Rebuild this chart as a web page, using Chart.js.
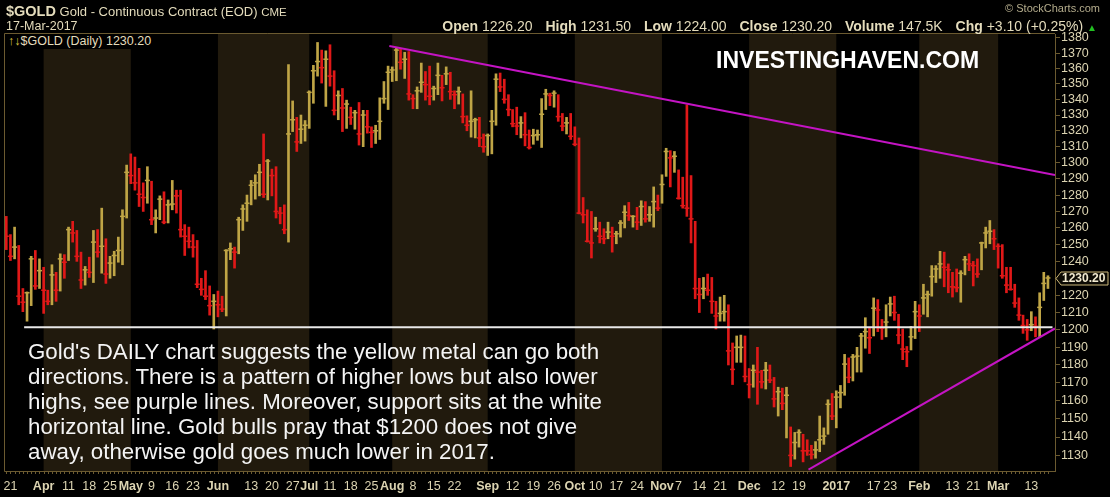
<!DOCTYPE html>
<html>
<head>
<meta charset="utf-8">
<title>$GOLD Daily</title>
<script src="https://cdn.jsdelivr.net/npm/chart.js@4.4.1/dist/chart.umd.min.js"></script>
<style>
  body { margin: 0; background: #000; }
  #wrap { position: relative; width: 1110px; height: 497px; overflow: hidden; font-family: 'Liberation Sans', Arial, sans-serif; }
  #goldChart { position: absolute; left: 0; top: 0; }
  .t { position: absolute; white-space: nowrap; color: #e4dcbc; line-height: 1; }
  #quote b { margin-left: 9px; }
  #quote b:first-child { margin-left: 0; }
  #legendBox { left: 6px; top: 34px; height: 15px; padding: 1px 6px 0 2px; background: #000; font-size: 12.5px; box-sizing: border-box; }
  #watermark { left: 716px; top: 48px; font-size: 24.5px; font-weight: bold; color: #fff; transform: scaleX(0.94); transform-origin: left top; }
  #note { left: 28px; top: 339px; font-size: 22.3px; line-height: 25px; color: #f4f4f4; }
</style>
</head>
<body>
<div id="wrap">
  <canvas id="goldChart" width="1110" height="497"></canvas>
  <div class="t" style="left:6px;top:4px;font-size:13px;"><b style="font-size:14.5px">$GOLD</b> Gold - Continuous Contract (EOD) <span style="font-size:11.5px">CME</span></div>
  <div class="t" style="left:6px;top:20px;font-size:12.5px;">17-Mar-2017</div>
  <div class="t" style="right:10px;top:3px;font-size:11px;color:#b4ac8c;">© StockCharts.com</div>
  <div class="t" id="quote" style="right:13px;top:19px;font-size:14px;"><b>Open</b> 1226.20 <b>High</b> 1231.50 <b>Low</b> 1224.00 <b>Close</b> 1230.20 <b>Volume</b> 147.5K <b>Chg</b> +3.10 (+0.25%) <span style="color:#22c022;font-size:10px">▲</span></div>
  <div class="t" id="legendBox"><span style="color:#d8c040">↑↓</span>$GOLD (Daily) 1230.20</div>
  <div class="t" id="watermark">INVESTINGHAVEN.COM</div>
  <div class="t" id="note">Gold's DAILY chart suggests the yellow metal can go both<br>directions. There is a pattern of higher lows but also lower<br>highs, see purple lines. Moreover, support sits at the white<br>horizontal line. Gold bulls pray that $1200 does not give<br>away, otherwise gold goes much lower in 2017.</div>
</div>
<script>
// daily bars, 18-Mar-2016 .. 17-Mar-2017 (252 sessions)
const highs = [
  1267, 1256, 1260.5, 1249.5, 1224, 1222, 1243, 1246.5, 1241.5, 1236.5,
  1223, 1238, 1233.5, 1244.5, 1244, 1260.5, 1264, 1258.5, 1245.5, 1237,
  1242.5, 1258.5, 1259, 1272, 1253.5, 1243, 1246, 1254.5, 1271, 1298.5,
  1305.5, 1303.5, 1296.5, 1287.5, 1297.5, 1288.5, 1271, 1279.5, 1282, 1277,
  1289, 1283, 1283, 1262, 1260.5, 1256, 1252.5, 1230, 1234.5, 1225.5,
  1220.5, 1222.5, 1219.5, 1247, 1251, 1248.5, 1266.5, 1274, 1280, 1289,
  1292.5, 1299, 1318, 1302, 1296, 1297.5, 1272.5, 1274, 1362.5, 1339,
  1328.5, 1330, 1326.5, 1345.5, 1362, 1377, 1372, 1371.5, 1375.5, 1358.5,
  1345.5, 1347, 1339.5, 1335, 1333, 1338, 1333, 1333, 1322.5, 1323.5,
  1341, 1351.5, 1361.5, 1361, 1373.5, 1372.5, 1370.5, 1371, 1343, 1348,
  1363.5, 1358, 1361.5, 1348.5, 1363.5, 1355.5, 1361, 1357.5, 1345.5, 1348,
  1343.5, 1329.5, 1345.5, 1328, 1328.5, 1318, 1318, 1333, 1356.5, 1357,
  1353, 1343, 1333.5, 1335, 1329, 1331.5, 1320.5, 1321, 1320.5, 1340.5,
  1346.5, 1344, 1345.5, 1343, 1331, 1328.5, 1331, 1322.5, 1315.5, 1278.5,
  1271, 1270, 1266.5, 1263.5, 1259.5, 1263.5, 1260.5, 1258, 1264.5, 1273.5,
  1275.5, 1267.5, 1272.5, 1276.5, 1276, 1273, 1285, 1280, 1292.5, 1309,
  1307.5, 1307, 1295.5, 1291, 1336.5, 1292, 1264, 1230, 1230.5, 1232.5,
  1230.5, 1216.5, 1219, 1220, 1214.5, 1192.5, 1196.5, 1197, 1196.5, 1178,
  1180, 1190, 1177, 1181.5, 1180, 1173, 1167.5, 1167, 1167.5, 1145.5,
  1142.5, 1144, 1141.5, 1138.5, 1135.5, 1137.5, 1151.5, 1145, 1160.5, 1164,
  1165.5, 1168.5, 1186, 1184, 1186, 1190, 1198, 1207, 1201, 1218.5,
  1217.5, 1206, 1214.5, 1219, 1219.5, 1209, 1200.5, 1190.5, 1202, 1216.5,
  1214.5, 1226.5, 1222.5, 1237.5, 1237.5, 1246, 1245.5, 1238.5, 1233.5, 1235.5,
  1234.5, 1243, 1244.5, 1240, 1241.5, 1251.5, 1260.5, 1264.5, 1259, 1250.5,
  1250, 1236.5, 1236.5, 1226.5, 1218.5, 1208.5, 1206, 1210.5, 1207.5, 1221.5,
  1233.5, 1231.5
];
const lows = [
  1247, 1240.5, 1241.5, 1214.5, 1210.5, 1205, 1214, 1223.5, 1224, 1209.5,
  1214.5, 1214.5, 1216.5, 1222.5, 1230, 1240.5, 1251.5, 1240, 1224, 1226,
  1230.5, 1227.5, 1242.5, 1233, 1227, 1230, 1231.5, 1239.5, 1238, 1266,
  1287, 1283, 1273, 1270, 1275, 1262, 1257, 1265, 1262.5, 1263,
  1271, 1269, 1254.5, 1243.5, 1248, 1242.5, 1224.5, 1220, 1217.5, 1208.5,
  1200.5, 1207.5, 1210.5, 1208, 1241, 1236, 1244.5, 1258.5, 1264, 1274,
  1277.5, 1279.5, 1278.5, 1277, 1279.5, 1266, 1262.5, 1256.5, 1251.5, 1319.5,
  1307, 1312, 1313.5, 1321.5, 1337.5, 1355, 1350.5, 1335.5, 1348.5, 1330,
  1327, 1319.5, 1321.5, 1324, 1321, 1311, 1310, 1318.5, 1309.5, 1312,
  1314.5, 1337.5, 1333.5, 1351.5, 1352, 1359.5, 1353.5, 1339.5, 1334, 1334,
  1344.5, 1339.5, 1336.5, 1339.5, 1343, 1339, 1349.5, 1340, 1334, 1337,
  1325, 1320, 1316, 1315.5, 1310, 1306.5, 1304.5, 1305.5, 1323.5, 1345,
  1337.5, 1329.5, 1322.5, 1317.5, 1315.5, 1310.5, 1308.5, 1311.5, 1314, 1309.5,
  1333.5, 1336, 1335, 1326, 1320, 1318, 1314.5, 1310.5, 1268.5, 1263,
  1251.5, 1242, 1258, 1251, 1250.5, 1253.5, 1245.5, 1250.5, 1254.5, 1260,
  1264.5, 1260.5, 1259, 1261.5, 1263.5, 1264, 1260.5, 1270.5, 1275, 1291.5,
  1285, 1294, 1277.5, 1272, 1267, 1251, 1218, 1210, 1218, 1220,
  1209.5, 1200.5, 1205, 1205, 1180, 1169, 1181.5, 1181.5, 1170.5, 1161.5,
  1167.5, 1158, 1167, 1166.5, 1170, 1156.5, 1151.5, 1155, 1139.5, 1124,
  1128, 1134.5, 1126.5, 1130, 1128, 1128.5, 1132, 1136, 1141.5, 1149.5,
  1145, 1156, 1163, 1170, 1171, 1176, 1176, 1189.5, 1186.5, 1196.5,
  1199, 1194.5, 1196, 1208, 1205.5, 1192, 1183, 1179, 1188.5, 1195,
  1199, 1209, 1207.5, 1219.5, 1227.5, 1230, 1225, 1221.5, 1219, 1222,
  1216, 1232, 1234.5, 1225.5, 1230.5, 1235, 1248, 1250.5, 1247, 1236,
  1230, 1221.5, 1223, 1213, 1205.5, 1198, 1194, 1199.5, 1196, 1196,
  1217, 1224
];
const closes = [
  1255, 1243, 1248.5, 1219.5, 1216, 1221.5, 1241.5, 1225.5, 1234.5, 1223,
  1216.5, 1232, 1223, 1241.5, 1239.5, 1259, 1257, 1243, 1229, 1235,
  1233.5, 1251.5, 1245.5, 1249, 1232.5, 1239, 1243.5, 1246.5, 1267, 1294,
  1292, 1287.5, 1280.5, 1278.5, 1289, 1265, 1266, 1277.5, 1263.5, 1274,
  1274.5, 1279.5, 1259, 1255, 1252, 1248.5, 1226.5, 1223.5, 1219.5, 1214,
  1216.5, 1214.5, 1212, 1246.5, 1247.5, 1245.5, 1265, 1271.5, 1275, 1286,
  1287.5, 1294, 1280.5, 1301, 1292, 1270, 1269, 1259, 1318, 1327,
  1313, 1321, 1323.5, 1344.5, 1358.5, 1364.5, 1360.5, 1366, 1355, 1333,
  1342.5, 1334.5, 1337, 1328.5, 1331.5, 1318, 1330, 1322.5, 1319, 1320,
  1326, 1340.5, 1357.5, 1359, 1372, 1364, 1366, 1343.5, 1340.5, 1345.5,
  1351, 1349.5, 1342, 1347, 1355.5, 1347.5, 1356.5, 1345, 1343, 1345,
  1329, 1323.5, 1326, 1327, 1315.5, 1310, 1317, 1326, 1353, 1348,
  1340, 1333.5, 1324.5, 1323, 1325, 1317.5, 1309.5, 1317, 1317.5, 1330.5,
  1343.5, 1342.5, 1344, 1329, 1323, 1325, 1316.5, 1311.5, 1269, 1268,
  1252, 1251, 1259.5, 1255, 1253.5, 1257.5, 1255, 1256.5, 1263, 1269.5,
  1267.5, 1267, 1263.5, 1273, 1265.5, 1268, 1276, 1272, 1286.5, 1307,
  1303, 1304, 1278, 1273.5, 1272, 1265.5, 1224, 1220.5, 1224, 1223,
  1216.5, 1208, 1209.5, 1210.5, 1188, 1177.5, 1190, 1190, 1173.5, 1169,
  1177, 1176, 1170.5, 1177, 1171.5, 1161, 1165, 1158.5, 1163, 1130,
  1137, 1142.5, 1132.5, 1132.5, 1130.5, 1133, 1138.5, 1140.5, 1158, 1151.5,
  1162, 1164.5, 1180.5, 1173, 1184.5, 1185, 1196.5, 1199, 1195.5, 1212.5,
  1211.5, 1201, 1204.5, 1215, 1210, 1197, 1189, 1187.5, 1196, 1210.5,
  1208, 1218.5, 1220.5, 1231, 1235.5, 1238.5, 1236.5, 1235, 1225, 1224.5,
  1233, 1241, 1238.5, 1237.5, 1232.5, 1251, 1257, 1258, 1253.5, 1249,
  1231.5, 1226, 1223.5, 1215.5, 1208.5, 1202.5, 1200, 1203, 1202, 1213,
  1227, 1230.2
];
// g = up day (gold), r = down day (red)
const dayColors = [
  'rrgrrggrgr', 'rgrgrgrrrg', 'rgrgrggggg', 'rrrrgrggrg', 'grrrrrrrrr',
  'grrggrgggg', 'ggrgrrrrgg', 'rgggggrgrr', 'grgrgrgrrg', 'gggggrgrrg',
  'grrggrgrrg', 'rrggrrgggr', 'rrrrgrrggg', 'grgrrgrrrr', 'rrgrrgrggg',
  'rgrgrggrgg', 'rgrrrrrrgr', 'rrggrrggrr', 'grrgrrgrgr', 'ggrrrggggr',
  'gggrggggrg', 'rrggrrrrgg', 'rgggggrrrr', 'ggrrrgggrr', 'rrrrrrrgrg',
  'gg'
];

// x axis labels (bar number -> text)
const xTickPos = [2, 10, 16, 21, 26, 31, 36, 41, 46, 52, 60, 65, 70, 74, 79, 84, 89, 94, 99, 104, 109,
  117, 123, 128, 133, 138, 143, 148, 153, 159, 163, 168, 173, 180, 187, 192, 201, 210, 214, 221, 229, 234, 240, 248];
const xTickText = ['21', 'Apr', '11', '18', '25', 'May', '9', '16', '23', 'Jun', '13', '20', '27', 'Jul', '11', '18', '25', 'Aug', '8', '15', '22',
  'Sep', '12', '19', '26', 'Oct', '10', '17', '24', 'Nov', '7', '14', '21', 'Dec', '12', '19', '2017', '17', '23', 'Feb', '13', '21', 'Mar', '13'];
const boldLabels = ['Apr', 'May', 'Jun', 'Jul', 'Aug', 'Sep', 'Oct', 'Nov', 'Dec', '2017', 'Feb', 'Mar'];

const yTicks = [1130, 1140, 1150, 1160, 1170, 1180, 1190, 1200, 1210, 1220, 1230, 1240, 1250, 1260,
  1270, 1280, 1290, 1300, 1310, 1320, 1330, 1340, 1350, 1360, 1370, 1380];

// shaded months: Apr, Jun, Aug, Oct, Dec, Feb (first bar, last bar)
const shadeStart = [10, 52, 94, 138, 180, 221];
const shadeEnd = [30, 73, 116, 158, 200, 239];

// drawn lines: [bar, price]
const supportLine = [[5.3, 1201.5], [253.1, 1201.5]];
const upperTrend = [[93.3, 1374.7], [253.7, 1292.4]];
const lowerTrend = [[194.3, 1122.3], [253.7, 1200.8]];

const GOLD = '#bfa546';
const RED = '#e01818';
const CREAM = '#dcd4b2';
const FRAME = '#6b5a30';
const FONT = "'Liberation Sans', Arial, sans-serif";

const barNo = highs.map((_, i) => i + 1);
const barColors = dayColors.join('').split('').map(c => (c === 'g' ? GOLD : RED));
const toXY = pts => pts.map(p => ({ x: p[0], y: p[1] }));

const shadePlugin = {
  id: 'monthShade',
  beforeDatasetsDraw(chart) {
    const { ctx, chartArea, scales } = chart;
    ctx.save();
    ctx.fillStyle = '#211a0d';
    shadeStart.forEach((s, i) => {
      const x1 = scales.x.getPixelForValue(s);
      const x2 = scales.x.getPixelForValue(shadeEnd[i] + 1);
      ctx.fillRect(x1, chartArea.top, x2 - x1, chartArea.bottom - chartArea.top);
    });
    ctx.restore();
  }
};

const framePlugin = {
  id: 'frame',
  afterDraw(chart) {
    const { ctx, chartArea, scales } = chart;
    ctx.save();
    ctx.strokeStyle = FRAME;
    ctx.lineWidth = 1;
    ctx.beginPath();
    ctx.moveTo(chartArea.right, chartArea.top - 0.5);
    ctx.lineTo(chartArea.left - 0.5, chartArea.top - 0.5);
    ctx.lineTo(chartArea.left - 0.5, chartArea.bottom + 0.5);
    ctx.lineTo(chartArea.right, chartArea.bottom + 0.5);
    ctx.stroke();
    // small day marks under the plot
    ctx.beginPath();
    barNo.forEach(k => {
      const x = Math.round(scales.x.getPixelForValue(k)) + 0.5;
      ctx.moveTo(x, chartArea.bottom + 1);
      ctx.lineTo(x, chartArea.bottom + 3);
    });
    ctx.stroke();

    // last price tag on the axis
    const last = closes[closes.length - 1];
    const y = Math.round(scales.y.getPixelForValue(last)) + 0.5;
    const x0 = chartArea.right + 1;
    ctx.beginPath();
    ctx.moveTo(x0, y);
    ctx.lineTo(x0 + 5, y - 6.5);
    ctx.lineTo(1108, y - 6.5);
    ctx.lineTo(1108, y + 6.5);
    ctx.lineTo(x0 + 5, y + 6.5);
    ctx.closePath();
    ctx.fillStyle = '#0c0a04';
    ctx.fill();
    ctx.strokeStyle = '#cbb77a';
    ctx.stroke();
    ctx.fillStyle = '#f2ead0';
    ctx.font = 'bold 12px ' + FONT;
    ctx.textBaseline = 'middle';
    ctx.fillText(last.toFixed(2), x0 + 6, y + 0.5);
    ctx.restore();
  }
};

new Chart(document.getElementById('goldChart'), {
  type: 'bar',
  data: {
    datasets: [
      {
        type: 'line',
        label: 'Support',
        data: toXY(supportLine),
        borderColor: '#e8e8e8',
        borderWidth: 2,
        pointRadius: 0,
        order: 0
      },
      {
        type: 'line',
        label: 'Lower highs',
        data: toXY(upperTrend),
        borderColor: '#c414c4',
        borderWidth: 2,
        pointRadius: 0,
        order: 0
      },
      {
        type: 'line',
        label: 'Higher lows',
        data: toXY(lowerTrend),
        borderColor: '#c414c4',
        borderWidth: 2,
        pointRadius: 0,
        order: 0
      },
      {
        type: 'line',
        label: 'Close',
        data: barNo.map((k, i) => ({ x: k, y: closes[i] })),
        showLine: false,
        pointStyle: 'line',
        pointRadius: 2.5,
        pointBorderWidth: 1.5,
        pointBorderColor: barColors,
        pointHoverRadius: 0,
        order: 1
      },
      {
        type: 'bar',
        label: 'High-Low',
        data: barNo.map((k, i) => ({ x: k, y: [lows[i], highs[i]] })),
        backgroundColor: barColors,
        barThickness: 2,
        grouped: false,
        order: 2
      }
    ]
  },
  options: {
    responsive: false,
    animation: false,
    devicePixelRatio: 1,
    layout: { padding: { left: 5, top: 34, right: 0, bottom: 0 } },
    plugins: {
      legend: { display: false },
      tooltip: { enabled: false }
    },
    scales: {
      x: {
        type: 'linear',
        min: 0.69,
        max: 253.7,
        offset: false,
        bounds: 'data',
        afterBuildTicks: s => { s.ticks = xTickPos.map(v => ({ value: v })); },
        afterFit: s => { s.height = 26; s.paddingLeft = 0; s.paddingRight = 0; },
        grid: { display: false },
        border: { display: false },
        ticks: {
          autoSkip: false,
          maxRotation: 0,
          padding: 0,
          color: CREAM,
          callback: (v, i) => xTickText[i],
          font: c => ({ family: FONT, size: 12.5, weight: boldLabels.includes(xTickText[c.index]) ? 'bold' : 'normal' })
        }
      },
      y: {
        type: 'logarithmic',
        position: 'right',
        min: 1121.6,
        max: 1382.6,
        bounds: 'data',
        afterBuildTicks: s => { s.ticks = yTicks.map(v => ({ value: v })); },
        afterFit: s => { s.width = 55; },
        grid: { drawOnChartArea: false, color: FRAME, tickLength: 5 },
        border: { color: FRAME },
        ticks: {
          autoSkip: false,
          padding: 1,
          color: CREAM,
          font: { family: FONT, size: 12.5 },
          callback: v => String(v)
        }
      }
    }
  },
  plugins: [shadePlugin, framePlugin]
});
</script>
</body>
</html>
